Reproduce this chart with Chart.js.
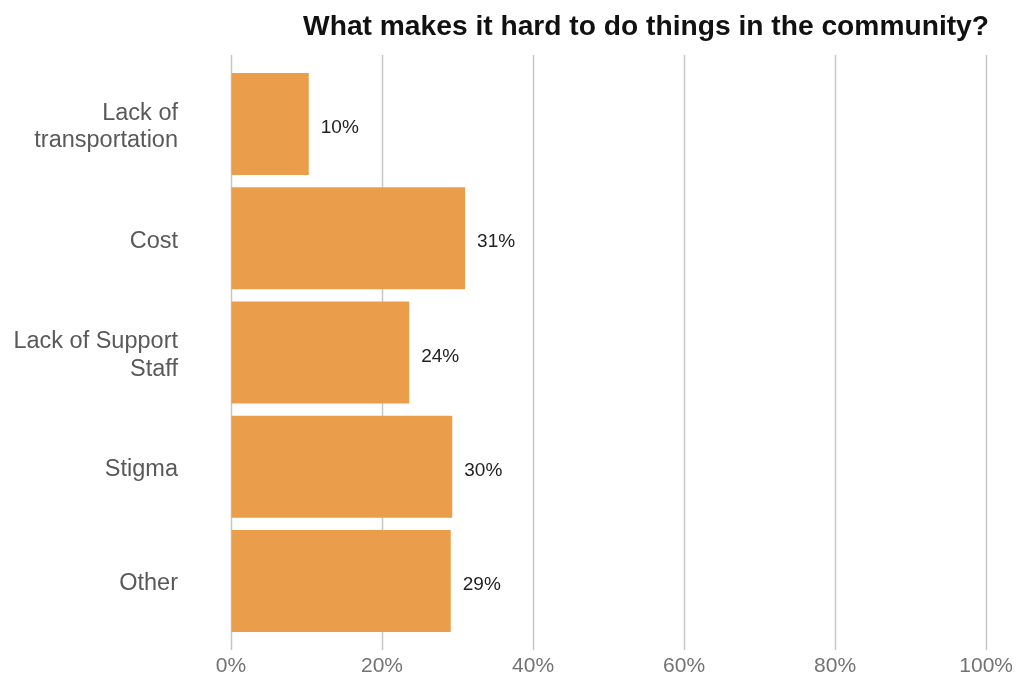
<!DOCTYPE html>
<html>
<head>
<meta charset="utf-8">
<script src="https://cdn.jsdelivr.net/npm/chart.js@4"></script>
<style>
    html, body { margin: 0; padding: 0; background: #ffffff; }
    #wrap { width: 1017px; height: 679px; }
</style>
</head>
<body>
<div id="wrap"><canvas id="hardChart" width="1017" height="679"></canvas></div>
<script>
// Survey data
const categories = [
    ['Lack of', 'transportation'],
    'Cost',
    ['Lack of Support', 'Staff'],
    'Stigma',
    'Other'
];
const shares = [10.3, 31.0, 23.6, 29.3, 29.1];
const shareLabels = ['10%', '31%', '24%', '30%', '29%'];
const xTicks = [0, 20, 40, 60, 80, 100];

// Grid lines that run a bit above the bars and down past the axis
const gridLines = {
    id: 'gridLines',
    beforeDatasetsDraw(chart) {
        const ctx = chart.ctx;
        const x = chart.scales.x;
        ctx.save();
        ctx.strokeStyle = '#c6c6c6';
        ctx.lineWidth = 1.5;
        xTicks.forEach(t => {
            const px = Math.round(x.getPixelForValue(t)) + 0.5;
            ctx.beginPath();
            ctx.moveTo(px, 55);
            ctx.lineTo(px, chart.chartArea.bottom + 12);
            ctx.stroke();
        });
        ctx.restore();
    }
};

// Percent labels next to each bar
const barLabels = {
    id: 'barLabels',
    afterDatasetsDraw(chart) {
        const ctx = chart.ctx;
        const meta = chart.getDatasetMeta(0);
        ctx.save();
        ctx.font = '19px "Liberation Sans", Arial, sans-serif';
        ctx.fillStyle = '#222222';
        ctx.textAlign = 'left';
        ctx.textBaseline = 'middle';
        meta.data.forEach((bar, i) => {
            ctx.fillText(shareLabels[i], bar.x + 12, bar.y + 4);
        });
        ctx.restore();
    }
};

new Chart(document.getElementById('hardChart').getContext('2d'), {
    type: 'bar',
    data: {
        labels: categories,
        datasets: [{
            data: shares,
            backgroundColor: '#ea9e4b',
            borderWidth: 0,
            categoryPercentage: 1,
            barPercentage: 0.893
        }]
    },
    options: {
        indexAxis: 'y',
        responsive: false,
        animation: false,
        layout: { padding: { left: 0, right: 28, top: 0, bottom: 0 } },
        plugins: {
            legend: { display: false },
            tooltip: { enabled: false },
            title: {
                display: true,
                text: 'What makes it hard to do things in the community?',
                align: 'end',
                color: '#111111',
                font: { family: '"Liberation Sans", Arial, sans-serif', size: 28.2, weight: 'bold' },
                padding: { top: 10, bottom: 23 }
            }
        },
        scales: {
            x: {
                min: 0,
                max: 100,
                afterBuildTicks: scale => { scale.ticks = xTicks.map(v => ({ value: v })); },
                afterFit: scale => { scale.height = 41; },
                grid: { color: 'transparent', tickLength: 12 },
                border: { display: false },
                ticks: {
                    padding: 4,
                    color: '#737373',
                    font: { family: '"Liberation Sans", Arial, sans-serif', size: 21 },
                    callback: v => v + '%'
                }
            },
            y: {
                afterFit: scale => { scale.width = 231; },
                grid: { display: false, drawTicks: true, tickLength: 53 },
                border: { display: false },
                ticks: {
                    padding: 0,
                    labelOffset: 3,
                    color: '#595959',
                    font: { family: '"Liberation Sans", Arial, sans-serif', size: 23.5, lineHeight: 1.17 }
                }
            }
        }
    },
    plugins: [gridLines, barLabels]
});
</script>
</body>
</html>
